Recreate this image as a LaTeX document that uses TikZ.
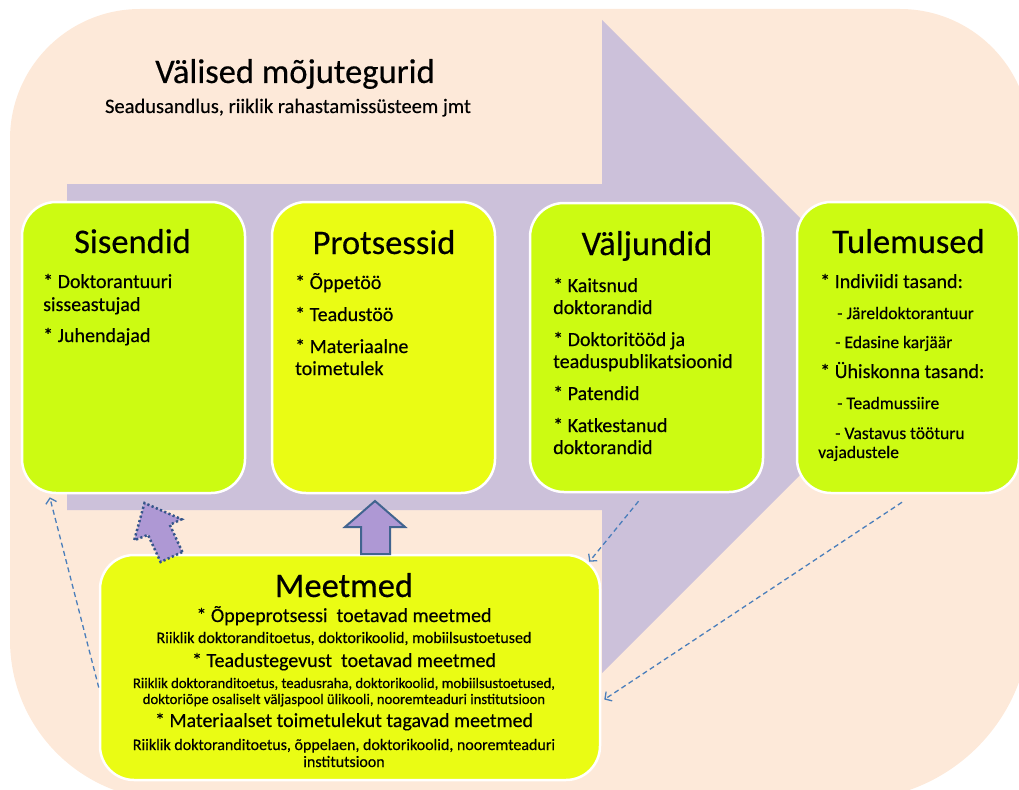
\documentclass[tikz,border=0pt]{standalone}
\usepackage{fontspec}
\setmainfont{Carlito}[UprightFeatures={FakeBold=0.35}]
\usetikzlibrary{arrows.meta,calc}
\definecolor{peach}{HTML}{FDE9D9}
\definecolor{lav}{HTML}{CCC1DA}
\definecolor{lime}{HTML}{CCFB12}
\definecolor{yel}{HTML}{EAFC14}
\definecolor{dashblue}{HTML}{4A7EBB}
\definecolor{blockfill}{HTML}{AE98D4}
\definecolor{blockline}{HTML}{41648F}
\definecolor{dotline}{HTML}{35558A}
\newcommand\fsz[2]{\fontsize{#1}{#2}\selectfont}
\begin{document}
\begin{tikzpicture}[x=1pt,y=-1pt,
  box/.style={draw=white,line width=2.5pt,rounded corners=34pt,inner sep=0pt},
  ttl/.style={anchor=base,inner sep=0pt,font=\fsz{34.5}{40}},
  txt/.style={anchor=base west,inner sep=0pt,font=\fsz{20}{24}},
  sub/.style={anchor=base west,inner sep=0pt,font=\fsz{17.5}{20}},
  mline/.style={anchor=base,inner sep=0pt,font=\fsz{20}{24}},
  sline/.style={anchor=base,inner sep=0pt,font=\fsz{16}{19}},
  tline/.style={anchor=base,inner sep=0pt,font=\fsz{14.7}{17}},
  link/.style={draw=dashblue,line width=1.3pt,dash pattern=on 5pt off 3.5pt,
    -{Straight Barb[length=5pt,width=11pt]}},
  blockarrow/.style={fill=blockfill,draw=blockline,line width=2pt,line join=miter},
  dotarrow/.style={fill=blockfill,draw=dotline,line width=2.5pt,dash pattern=on 2.2pt off 2.4pt}]
\useasboundingbox (0,0) rectangle (1019,789);
% background rounded panel
\fill[peach] (10,139) .. controls (10,67.2) and (68.2,9) .. (140,9)
  -- (900,9) .. controls (971.8,9) and (1030,67.2) .. (1030,139)
  -- (1030,620) .. controls (1030,719.4) and (949.4,800) .. (850,800)
  -- (170,800) .. controls (81.6,800) and (10,728.4) .. (10,640) -- cycle;
% big process arrow
\fill[lav] (67,184) -- (602,184) -- (602,20) -- (928.5,346.5) -- (602,673)
  -- (602,510) -- (67,510) -- cycle;
% title
\node[anchor=base,inner sep=0pt,font=\fsz{34.5}{40}] (title) at (295,83) {Välised mõjutegurid};
\node[anchor=base,inner sep=0pt,font=\fsz{20.5}{24}] (subtitle) at (288,113) {Seadusandlus, riiklik rahastamissüsteem jmt};
% boxes
\node[box,fill=lime,minimum width=223pt,minimum height=291pt] (sis) at (133.5,347.5) {};
\node[box,fill=yel,minimum width=223pt,minimum height=291pt] (pro) at (383.5,347.5) {};
\node[box,fill=lime,minimum width=233pt,minimum height=289pt] (val) at (646.5,347.5) {};
\node[box,fill=lime,minimum width=222pt,minimum height=291pt] (tul) at (908,347.5) {};
\node[box,fill=yel,minimum width=500pt,minimum height=225pt] (meet) at (350,667.5) {};
% Sisendid
\node[ttl] (sisT) at (132.5,253) {Sisendid};
\node[txt] (sis1) at (43,288) {* Doktorantuuri};
\node[txt] (sis2) at (43,311) {sisseastujad};
\node[txt] (sis3) at (43,342) {* Juhendajad};
% Protsessid
\node[ttl] (proT) at (384,254) {Protsessid};
\node[txt] (pro1) at (295,289) {* Õppetöö};
\node[txt] (pro2) at (295,321) {* Teadustöö};
\node[txt] (pro3) at (295,353) {* Materiaalne};
\node[txt] (pro4) at (295,375) {toimetulek};
% Väljundid
\node[ttl] (valT) at (647,255) {Väljundid};
\node[txt] (val1) at (553,292) {* Kaitsnud};
\node[txt] (val2) at (553,314) {doktorandid};
\node[txt] (val3) at (553,346) {* Doktoritööd ja};
\node[txt] (val4) at (553,368) {teaduspublikatsioonid};
\node[txt] (val5) at (553,400) {* Patendid};
\node[txt] (val6) at (553,432) {* Katkestanud};
\node[txt] (val7) at (553,454) {doktorandid};
% Tulemused
\node[ttl] (tulT) at (908.5,253) {Tulemused};
\node[txt] (tul1) at (820,288) {* Indiviidi tasand:};
\node[sub] (tul2) at (837,319) {- Järeldoktorantuur};
\node[sub] (tul3) at (835,348) {- Edasine karjäär};
\node[txt] (tul4) at (820,378) {* Ühiskonna tasand:};
\node[sub] (tul5) at (837,409) {- Teadmussiire};
\node[sub] (tul6) at (835,439) {- Vastavus tööturu};
\node[sub] (tul7) at (818,458) {vajadustele};
% Meetmed
\node[ttl] (meetT) at (344,597) {Meetmed};
\node[mline] (m1) at (344,622) {* Õppeprotsessi\ \ toetavad meetmed};
\node[sline] (m2) at (344,643) {Riiklik doktoranditoetus, doktorikoolid, mobiilsustoetused};
\node[mline] (m3) at (344,667) {* Teadustegevust\ \ toetavad meetmed};
\node[tline] (m4) at (344,688) {Riiklik doktoranditoetus, teadusraha, doktorikoolid, mobiilsustoetused,};
\node[tline] (m5) at (344,704) {doktoriõpe osaliselt väljaspool ülikooli, nooremteaduri institutsioon};
\node[mline] (m6) at (344,727) {* Materiaalset toimetulekut tagavad meetmed};
\node[sline] (m7) at (344,750) {Riiklik doktoranditoetus, õppelaen, doktorikoolid, nooremteaduri};
\node[sline] (m8) at (344,767) {institutsioon};
% block arrows
\draw[blockarrow] (361,554) -- (361,527) -- (345,527) -- (375,501) -- (405,527)
  -- (390,527) -- (390,554) -- cycle;
\draw[dotarrow] (182.4,552) -- (169.8,524.8) -- (181.6,519.3) -- (144.5,503)
  -- (134.2,540.3) -- (148,534.8) -- (160.6,562) -- cycle;
% dashed feedback connectors
\draw[link] ([yshift=-20pt]meet.west) -- ([xshift=29pt,yshift=-3pt]sis.south west);
\draw[link] ([xshift=-8pt,yshift=-8pt]val.south) -- ([xshift=-12pt,yshift=-8pt]meet.north east);
\draw[link] ([xshift=-6pt,yshift=-8pt]tul.south) -- ([xshift=3pt,yshift=-32pt]meet.east);
\end{tikzpicture}
\end{document}
